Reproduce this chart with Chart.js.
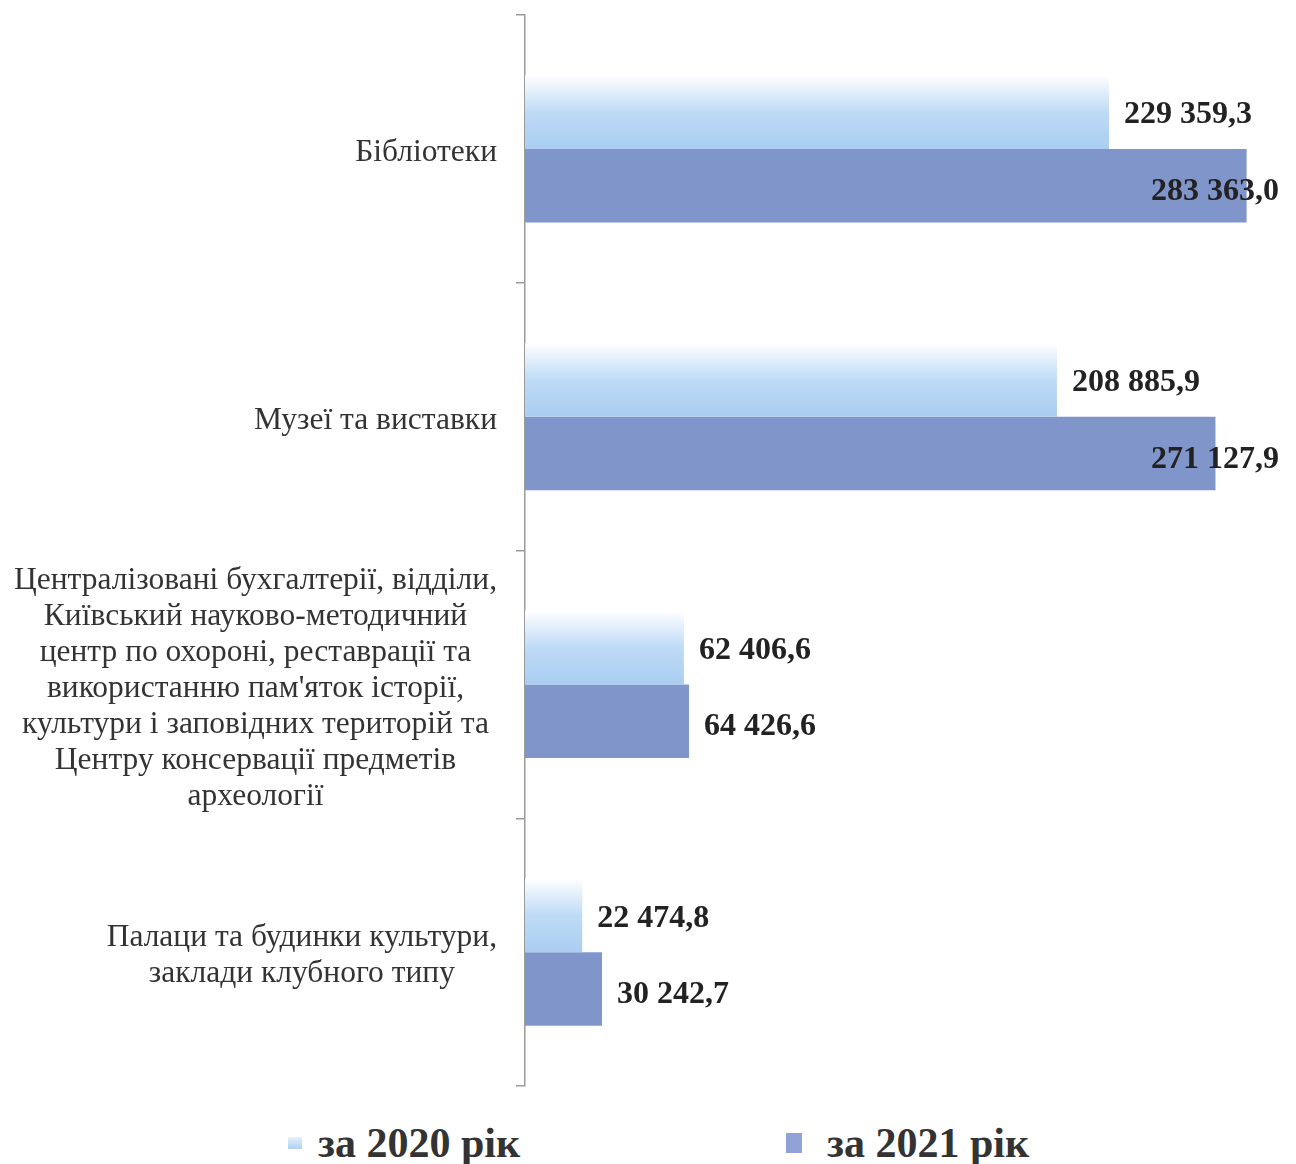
<!DOCTYPE html>
<html><head><meta charset="utf-8">
<script src="https://cdn.jsdelivr.net/npm/chart.js@4/dist/chart.umd.min.js"></script>
<style>
html,body{margin:0;padding:0;background:#fff;}
#wrap{position:relative;width:1296px;height:1100px;}
#legend{position:absolute;top:1119px;left:0;width:1296px;height:48px;font-family:"Liberation Serif",serif;font-weight:bold;font-size:42px;color:#333;}
.item{position:absolute;top:0;height:48px;display:flex;align-items:center;white-space:nowrap;}
.box{display:inline-block;}
</style></head>
<body>
<div id="wrap"><canvas id="c"></canvas></div>
<div id="legend"></div>
<script>
const categories = [
  ["Бібліотеки"],
  ["Музеї та виставки"],
  ["Централізовані бухгалтерії, відділи,", "Київський науково-методичний", "центр по охороні, реставрації та", "використанню пам'яток історії,", "культури і заповідних територій та", "Центру консервації предметів", "археології"],
  ["Палаци та будинки культури,", "заклади клубного типу"]
];
const seriesNames = ["за 2020 рік", "за 2021 рік"];
const values2020 = [229359.3, 208885.9, 62406.6, 22474.8];
const values2021 = [283363.0, 271127.9, 64426.6, 30242.7];
const xMax = 300000;

const catPct = 0.55;
const color2021 = '#8096cb';
const color2020 = '#aecff2';

function fmt(v){
  const s = v.toFixed(1).split('.');
  return s[0].replace(/\B(?=(\d{3})+(?!\d))/g, ' ') + ',' + s[1];
}

function grad2020(ctx){
  const chart = ctx.chart;
  const y = chart.scales && chart.scales.y;
  if (!y || ctx.dataIndex === undefined || !chart.chartArea) return color2020;
  const c = y.getPixelForValue(ctx.dataIndex);
  const catH = (y.bottom - y.top) / categories.length;
  const top = c - catH * catPct / 2;
  const g = chart.ctx.createLinearGradient(0, top, 0, c);
  g.addColorStop(0, '#ffffff');
  g.addColorStop(0.5, '#bedbf6');
  g.addColorStop(1, '#aacdf0');
  return g;
}

const valueLabels = {
  id: 'valueLabels',
  afterDatasetsDraw(chart){
    const ctx = chart.ctx, area = chart.chartArea;
    ctx.save();
    ctx.font = 'bold 32px "Liberation Serif", serif';
    ctx.fillStyle = '#222';
    ctx.textBaseline = 'middle';
    ctx.textAlign = 'left';
    chart.data.datasets.forEach((ds, di) => {
      const meta = chart.getDatasetMeta(di);
      meta.data.forEach((bar, i) => {
        const txt = fmt(ds.data[i]);
        const w = ctx.measureText(txt).width;
        let x = bar.x + 15;
        if (x + w > area.right - 10) x = area.right - 10 - w;
        ctx.fillText(txt, x, bar.y + (di === 0 ? 3 : 6));
      });
    });
    ctx.restore();
  }
};

const catLabels = {
  id: 'catLabels',
  afterDraw(chart){
    const ctx = chart.ctx, y = chart.scales.y;
    ctx.save();
    ctx.font = '31.5px "Liberation Serif", serif';
    ctx.fillStyle = '#333';
    ctx.textBaseline = 'middle';
    ctx.textAlign = 'center';
    const right = chart.chartArea.left - 28;
    const lh = 36;
    categories.forEach((lines, i) => {
      const c = y.getPixelForValue(i) + 4;
      const maxW = Math.max(...lines.map(l => ctx.measureText(l).width));
      const cx = right - maxW / 2;
      const y0 = c - (lines.length - 1) * lh / 2;
      lines.forEach((l, j) => ctx.fillText(l, cx, y0 + j * lh));
    });
    ctx.restore();
  }
};

const chart = new Chart(document.getElementById('c'), {
  type: 'bar',
  data: {
    labels: categories.map(l => l.join(' ')),
    datasets: [
      { label: seriesNames[0], data: values2020, backgroundColor: grad2020, borderWidth: 0, categoryPercentage: catPct, barPercentage: 1 },
      { label: seriesNames[1], data: values2021, backgroundColor: color2021, borderWidth: 0, categoryPercentage: catPct, barPercentage: 1 }
    ]
  },
  options: {
    indexAxis: 'y',
    responsive: true,
    maintainAspectRatio: false,
    animation: false,
    layout: { padding: { top: 15, bottom: 14, left: 516, right: 7 } },
    plugins: { legend: { display: false }, tooltip: { enabled: false } },
    scales: {
      x: { display: false, min: 0, max: xMax },
      y: {
        type: 'category',
        ticks: { display: false },
        grid: { display: true, drawOnChartArea: false, drawTicks: true, tickLength: 9, color: '#9a9a9a', lineWidth: 1.5, offset: true },
        border: { display: true, color: '#9a9a9a', width: 1.5 }
      }
    }
  },
  plugins: [valueLabels, catLabels]
});

// legend
const legend = document.getElementById('legend');
const legendPos = [{box: 288, bw: 14, bh: 12}, {box: 786, bw: 16, bh: 20}];
seriesNames.forEach((name, i) => {
  const it = document.createElement('div');
  it.className = 'item';
  it.style.left = legendPos[i].box + 'px';
  const b = document.createElement('span');
  b.className = 'box';
  b.style.width = legendPos[i].bw + 'px';
  b.style.height = legendPos[i].bh + 'px';
  b.style.marginRight = (i === 0 ? 16 : 25) + 'px';
  b.style.background = i === 0 ? 'linear-gradient(#e6f2fc,' + color2020 + ')' : '#8fa3d6';
  const t = document.createElement('span');
  t.textContent = name;
  it.appendChild(b); it.appendChild(t);
  legend.appendChild(it);
});
</script>
</body></html>
